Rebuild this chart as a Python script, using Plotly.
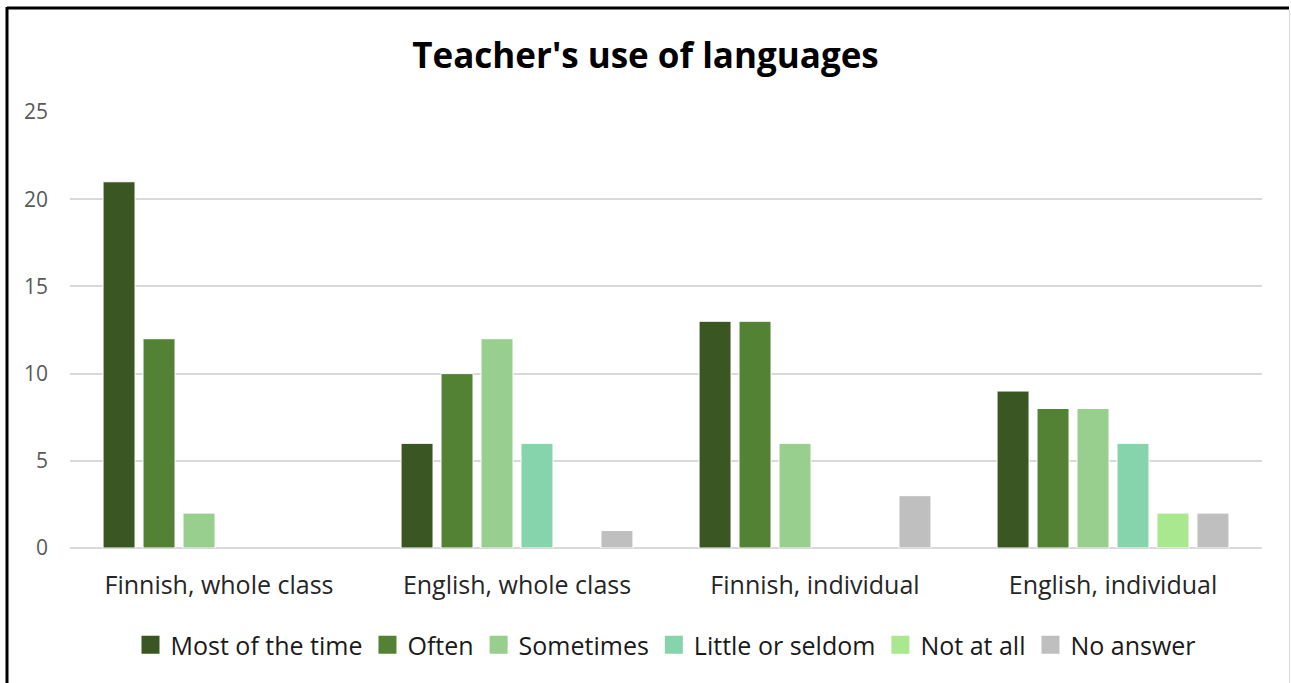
import plotly.graph_objects as go

categories = ["Finnish, whole class", "English, whole class", "Finnish, individual", "English, individual"]
most_of_the_time = [21, 6, 13, 9]
often = [12, 10, 13, 8]
sometimes = [2, 12, 6, 8]
little_or_seldom = [0, 6, 0, 6]
not_at_all = [0, 0, 0, 2]
no_answer = [0, 1, 3, 2]

series = [
    ("Most of the time", most_of_the_time, "#3A5623"),
    ("Often", often, "#548235"),
    ("Sometimes", sometimes, "#98CE8E"),
    ("Little or seldom", little_or_seldom, "#86D4AB"),
    ("Not at all", not_at_all, "#A9E88E"),
    ("No answer", no_answer, "#BFBFBF"),
]

FONT = "Open Sans"

fig = go.Figure()
for name, vals, color in series:
    fig.add_trace(go.Bar(
        name=name, x=categories, y=vals, legendgroup=name, showlegend=False,
        marker=dict(color=color,
                    line=dict(color="white", width=[1 if v else 0 for v in vals])),
    ))
# legend entries with larger square swatches
for name, vals, color in series:
    fig.add_trace(go.Scatter(
        name=name, x=[None], y=[None], mode="markers", legendgroup=name,
        marker=dict(symbol="square", size=16, color=color,
                    line=dict(color=color, width=2)),
        hoverinfo="skip",
    ))

W, H = 1291, 683
L, R, T, B = 70, 29, 112, 135
pw, ph = W - L - R, H - T - B

def px(x):
    return (x - L) / pw

def py(y):
    return (H - B - y) / ph

fig.update_layout(
    width=W, height=H,
    margin=dict(l=L, r=R, t=T, b=B),
    paper_bgcolor="white", plot_bgcolor="white",
    barmode="group", bargap=0.195, bargroupgap=0.2,
    title=dict(text="<b>Teacher's use of languages</b>", x=0.5, xanchor="center",
               y=1 - 56 / H, yanchor="middle",
               font=dict(family=FONT, size=35, color="black")),
    font=dict(family=FONT),
    yaxis=dict(range=[0, 25], dtick=5, showgrid=True, gridcolor="#D9D9D9", gridwidth=1.5,
               zeroline=True, zerolinecolor="#D9D9D9", zerolinewidth=1.5,
               tickfont=dict(size=21, color="#595959"), ticks="", ticklabelstandoff=21,
               showline=False),
    xaxis=dict(tickfont=dict(size=25, color="#262626"), showline=False, ticks="",
               ticklabelstandoff=20),
    legend=dict(orientation="h", x=0.5, xanchor="center", y=py(645), yanchor="middle",
                font=dict(size=25, color="#1A1A1A"), traceorder="normal",
                itemsizing="trace", itemwidth=30),
    shapes=[
        dict(type="line", xref="paper", yref="paper", x0=px(7), x1=px(7), y0=py(7), y1=py(700),
             line=dict(color="black", width=3)),
        dict(type="line", xref="paper", yref="paper", x0=px(7), x1=px(1289), y0=py(8), y1=py(8),
             line=dict(color="black", width=3)),
        dict(type="line", xref="paper", yref="paper", x0=px(1289.5), x1=px(1289.5), y0=py(10), y1=py(700),
             line=dict(color="#D9D9D9", width=1)),
    ],
)

fig.write_html("out.html")
